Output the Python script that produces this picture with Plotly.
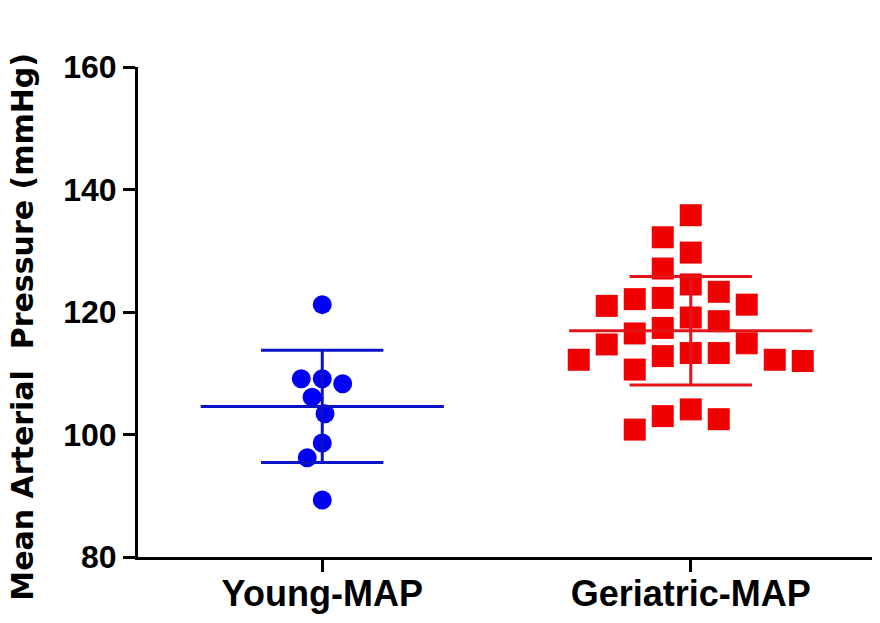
import numpy as np
import plotly.graph_objects as go

# data (mmHg)
groups = ["Young-MAP", "Geriatric-MAP"]
young_map = [121.2, 109.1, 109.1, 108.3, 106.1, 103.4, 98.6, 96.2, 89.3]
geriatric_map = [135.8, 132.2, 129.7, 127.1, 124.5, 123.3, 122.3, 122.1, 121.2, 121.0,
                 119.1, 118.5, 117.4, 116.5, 114.9, 114.7, 113.3, 113.3, 112.8, 112.2,
                 112.2, 112.0, 110.6, 104.1, 103.0, 102.5, 100.8]
y_ticks = [80, 100, 120, 140, 160]
y_title = "Mean Arterial  Pressure (mmHg)"

# the page body adds an 8px margin, so the figure is 8px smaller than the window
W, H = 872, 615
MARGIN = dict(l=130, r=5, t=59, b=66)
X_RANGE = [-0.5, 1.5]
Y_RANGE = [80, 160]
px_x = (W - MARGIN["l"] - MARGIN["r"]) / (X_RANGE[1] - X_RANGE[0])
px_y = (H - MARGIN["t"] - MARGIN["b"]) / (Y_RANGE[1] - Y_RANGE[0])


def swarm(values, size, square=False):
    """simple beeswarm: put each point as near the centre as it fits"""
    placed = []
    out = [0.0] * len(values)
    order = sorted(range(len(values)), key=lambda i: values[i], reverse=True)

    def gap(py, y):
        if square:
            return size
        return np.sqrt(max(size ** 2 - (py - y) ** 2, 0))

    for i in order:
        y = values[i] * px_y
        near = [(px, py) for px, py in placed if abs(py - y) < size]
        cands = [0.0]
        for px, py in near:
            d = gap(py, y)
            cands += [px - d, px + d]
        cands.sort(key=lambda c: (round(abs(c), 3), c))
        for c in cands:
            if all(abs(c - px) >= gap(py, y) - 1e-6 for px, py in near):
                break
        placed.append((c, y))
        out[i] = c / px_x
    return out


styles = [
    dict(vals=young_map, symbol="circle", size=19, space=21, square=False,
         color="#0000F5", line="#0C12C8"),
    dict(vals=geriatric_map, symbol="square", size=22, space=28, square=True,
         color="#F00000", line="#E5141A"),
]

fig = go.Figure()

for i, st in enumerate(styles):
    offs = swarm(st["vals"], st["space"], st["square"])
    fig.add_trace(go.Scatter(
        x=[i + o for o in offs], y=st["vals"], mode="markers",
        marker=dict(symbol=st["symbol"], size=st["size"], color=st["color"],
                    line=dict(width=0)),
        cliponaxis=False, showlegend=False, hoverinfo="y"))

for i, st in enumerate(styles):
    m = float(np.mean(st["vals"]))
    sd = float(np.std(st["vals"], ddof=1))
    hw, cw = 0.33, 0.166
    xs = [i - hw, i + hw, None, i, i, None, i - cw, i + cw, None, i - cw, i + cw]
    ys = [m, m, None, m - sd, m + sd, None, m + sd, m + sd, None, m - sd, m - sd]
    fig.add_trace(go.Scatter(x=xs, y=ys, mode="lines",
                             line=dict(color=st["line"], width=3),
                             cliponaxis=False, showlegend=False, hoverinfo="skip"))

axis_common = dict(showline=True, linecolor="black", linewidth=3, ticks="outside",
                   ticklen=12, tickwidth=3, tickcolor="black", showgrid=False,
                   zeroline=False, automargin=False)

fig.update_layout(
    width=W, height=H, margin=MARGIN,
    plot_bgcolor="white", paper_bgcolor="white",
    xaxis=dict(range=X_RANGE, tickvals=[0, 1], ticktext=groups, ticklabelstandoff=-9,
               tickfont=dict(family="Liberation Sans", size=36, color="black", weight="bold"),
               **axis_common),
    yaxis=dict(range=Y_RANGE, tickvals=y_ticks,
               tickfont=dict(family="Liberation Sans", size=32, color="black", weight="bold"),
               **axis_common),
    annotations=[dict(text=y_title, textangle=-90, xref="paper", yref="paper",
                      x=(15 - MARGIN["l"]) / (W - MARGIN["l"] - MARGIN["r"]), y=0.47,
                      xanchor="center", yanchor="middle", showarrow=False,
                      font=dict(family="DejaVu Sans", size=30, color="black", weight="bold"))],
)

fig.write_html("out.html")
